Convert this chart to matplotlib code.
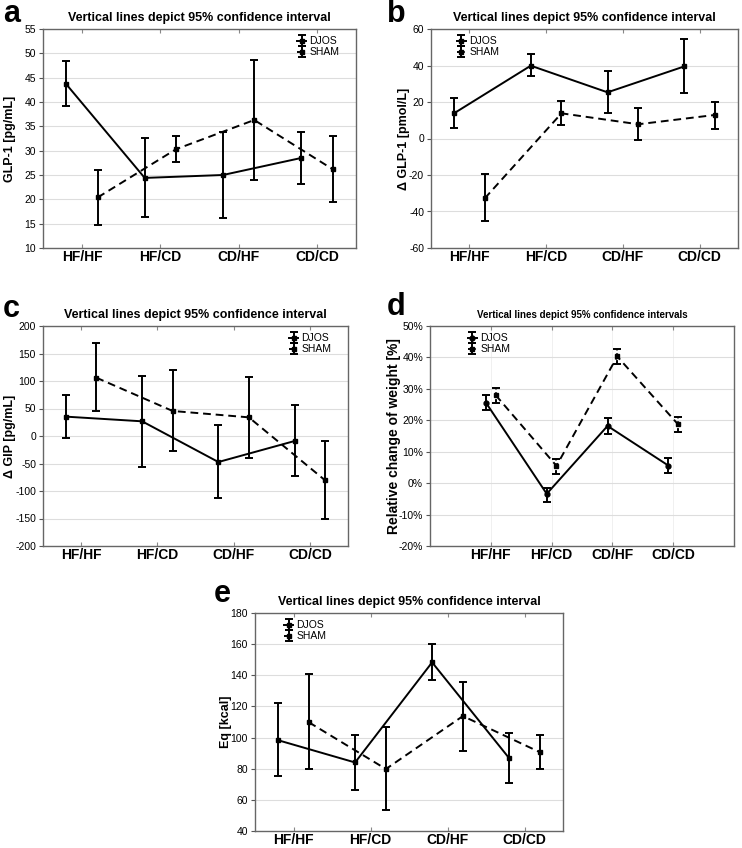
import matplotlib.pyplot as plt
import matplotlib.ticker as mticker
import numpy as np

plt.rcParams['font.family'] = ['Liberation Sans', 'DejaVu Sans']
plt.rcParams['axes.unicode_minus'] = False

# categories
groups = ["HF/HF", "HF/CD", "CD/HF", "CD/CD"]

# a: GLP-1 [pg/mL]  (mean, lower CI, upper CI)
a_djos = [43.6, 24.4, 25.0, 28.5]
a_djos_lo = [39.1, 16.3, 16.2, 23.2]
a_djos_hi = [48.4, 32.7, 33.9, 33.8]
a_sham = [20.4, 30.3, 36.3, 26.2]
a_sham_lo = [14.8, 27.7, 24.0, 19.4]
a_sham_hi = [26.1, 33.1, 48.7, 33.1]

# b: delta GLP-1 [pmol/L]
b_djos = [13.8, 39.9, 25.3, 39.5]
b_djos_lo = [5.7, 34.1, 14.0, 24.9]
b_djos_hi = [22.2, 46.3, 36.8, 54.3]
b_sham = [-32.8, 13.8, 7.8, 12.9]
b_sham_lo = [-45.2, 7.2, -0.8, 5.4]
b_sham_hi = [-19.3, 20.7, 16.7, 20.0]

# c: delta GIP [pg/mL]
c_djos = [35.2, 26.7, -47.3, -9.1]
c_djos_lo = [-3.6, -56.4, -113.3, -72.7]
c_djos_hi = [75.2, 109.0, 19.4, 55.8]
c_sham = [106.0, 45.5, 33.9, -80.6]
c_sham_lo = [46.0, -27.9, -39.4, -150.3]
c_sham_hi = [168.5, 119.4, 107.3, -9.7]

# d: relative change of weight [%]
d_djos = [25.6, -3.4, 18.2, 5.6]
d_djos_lo = [23.2, -6.0, 15.7, 3.2]
d_djos_hi = [27.9, -1.4, 20.7, 8.0]
d_sham = [28.0, 5.5, 40.3, 18.7]
d_sham_lo = [25.6, 3.0, 38.0, 16.4]
d_sham_hi = [30.3, 7.6, 42.7, 21.2]

# e: Eq [kcal]
e_djos = [98.3, 84.0, 148.3, 86.8]
e_djos_lo = [75.1, 66.6, 137.2, 70.9]
e_djos_hi = [121.9, 101.9, 160.0, 103.2]
e_sham = [109.8, 79.8, 113.8, 90.6]
e_sham_lo = [79.8, 53.6, 91.5, 79.8]
e_sham_hi = [140.9, 107.0, 136.0, 101.7]

W, H = 742, 848
fig = plt.figure(figsize=(W / 100, H / 100), dpi=100)


def make_axes(left, right, top, bottom):
    return fig.add_axes([left / W, 1 - bottom / H, (right - left) / W, (bottom - top) / H])


def errs(m, lo, hi):
    m = np.array(m)
    return [m - np.array(lo), np.array(hi) - m]


def panel(ax, dj, djlo, djhi, sh, shlo, shhi, ylim, step, ylabel, label_x,
          off=0.2, xlim=(-0.5, 3.5), leg_loc='upper right', leg_anchor=None,
          title="Vertical lines depict 95% confidence interval", title_size=9,
          sham_err_dash=False, djos_marker='s', pct=False, ylabel_size=9,
          vgrid=False):
    x = np.arange(len(groups))
    h1 = ax.errorbar(x - off, dj, yerr=errs(dj, djlo, djhi), color='black', lw=1.4,
                     elinewidth=1.4, capsize=3, capthick=1.4, marker=djos_marker,
                     ms=3.5, label='DJOS')
    h2 = ax.errorbar(x + off, sh, yerr=errs(sh, shlo, shhi), color='black', lw=1.4,
                     ls=(0, (4, 2.5)), elinewidth=1.4, capsize=3, capthick=1.4,
                     marker='s', ms=3.5, label='SHAM')
    if sham_err_dash:
        h2[2][0].set_linestyle((0, (2, 1.5)))
    ax.set_xlim(*xlim)
    ax.set_ylim(*ylim)
    ax.set_yticks(np.arange(ylim[0], ylim[1] + step / 2, step))
    if pct:
        ax.yaxis.set_major_formatter(mticker.FuncFormatter(lambda v, p: "%d%%" % v))
    ax.set_xticks(x)
    ax.set_xticklabels(groups, fontsize=10, fontweight='bold')
    ax.tick_params(axis='y', labelsize=7.5, length=3, color='#555555', pad=2)
    ax.tick_params(axis='x', length=3, color='#888888', top=True, direction='in', pad=1.5)
    ax.grid(axis='y', color='#dddddd', lw=0.8)
    if vgrid:
        ax.grid(axis='x', color='#eeeeee', lw=0.6)
    ax.set_axisbelow(True)
    for s in ax.spines.values():
        s.set_color('#666666')
        s.set_linewidth(1.0)
    ax.set_ylabel(ylabel, fontsize=ylabel_size, fontweight='bold')
    ax.yaxis.set_label_coords(label_x, 0.5)
    ax.set_title(title, fontsize=title_size, fontweight='bold', pad=6)
    ax.legend(handles=[h1, h2], loc=leg_loc, bbox_to_anchor=leg_anchor,
              frameon=False, fontsize=7.5, handlelength=0.9, handletextpad=0.3,
              labelspacing=0.1, borderaxespad=0.3)


def letter(x, y, s):
    fig.text(x / W, 1 - y / H, s, fontsize=22, fontweight='bold',
             ha='left', va='baseline')


ax = make_axes(43, 356, 29, 248)
panel(ax, a_djos, a_djos_lo, a_djos_hi, a_sham, a_sham_lo, a_sham_hi,
      (10, 55), 5, 'GLP-1 [pg/mL]', -0.086, leg_loc='upper right', leg_anchor=(0.97, 1.0))
letter(3, 22, 'a')

ax = make_axes(431, 738, 29, 248)
panel(ax, b_djos, b_djos_lo, b_djos_hi, b_sham, b_sham_lo, b_sham_hi,
      (-60, 60), 20, '\u0394 GLP-1 [pmol/L]', -0.070, leg_loc='upper left',
      leg_anchor=(0.06, 1.0))
letter(387, 22, 'b')

ax = make_axes(43, 348, 326, 546)
panel(ax, c_djos, c_djos_lo, c_djos_hi, c_sham, c_sham_lo, c_sham_hi,
      (-200, 200), 50, '\u0394 GIP [pg/mL]', -0.087, leg_loc='upper right',
      leg_anchor=(0.97, 1.0))
letter(3, 317, 'c')

ax = make_axes(430, 734, 326, 546)
panel(ax, d_djos, d_djos_lo, d_djos_hi, d_sham, d_sham_lo, d_sham_hi,
      (-20, 50), 10, 'Relative change of weight [%]', -0.095, off=0.08, xlim=(-1, 4),
      leg_loc='upper left', leg_anchor=(0.1, 1.0),
      title="Vertical lines depict 95% confidence intervals", title_size=7,
      sham_err_dash=True, djos_marker='o', pct=True, ylabel_size=10, vgrid=True)
letter(387, 315, 'd')

ax = make_axes(255, 563, 613, 831)
panel(ax, e_djos, e_djos_lo, e_djos_hi, e_sham, e_sham_lo, e_sham_hi,
      (40, 180), 20, 'Eq [kcal]', -0.076, leg_loc='upper left', leg_anchor=(0.07, 1.0))
letter(214, 602, 'e')

fig.savefig('out.png', dpi=100)
